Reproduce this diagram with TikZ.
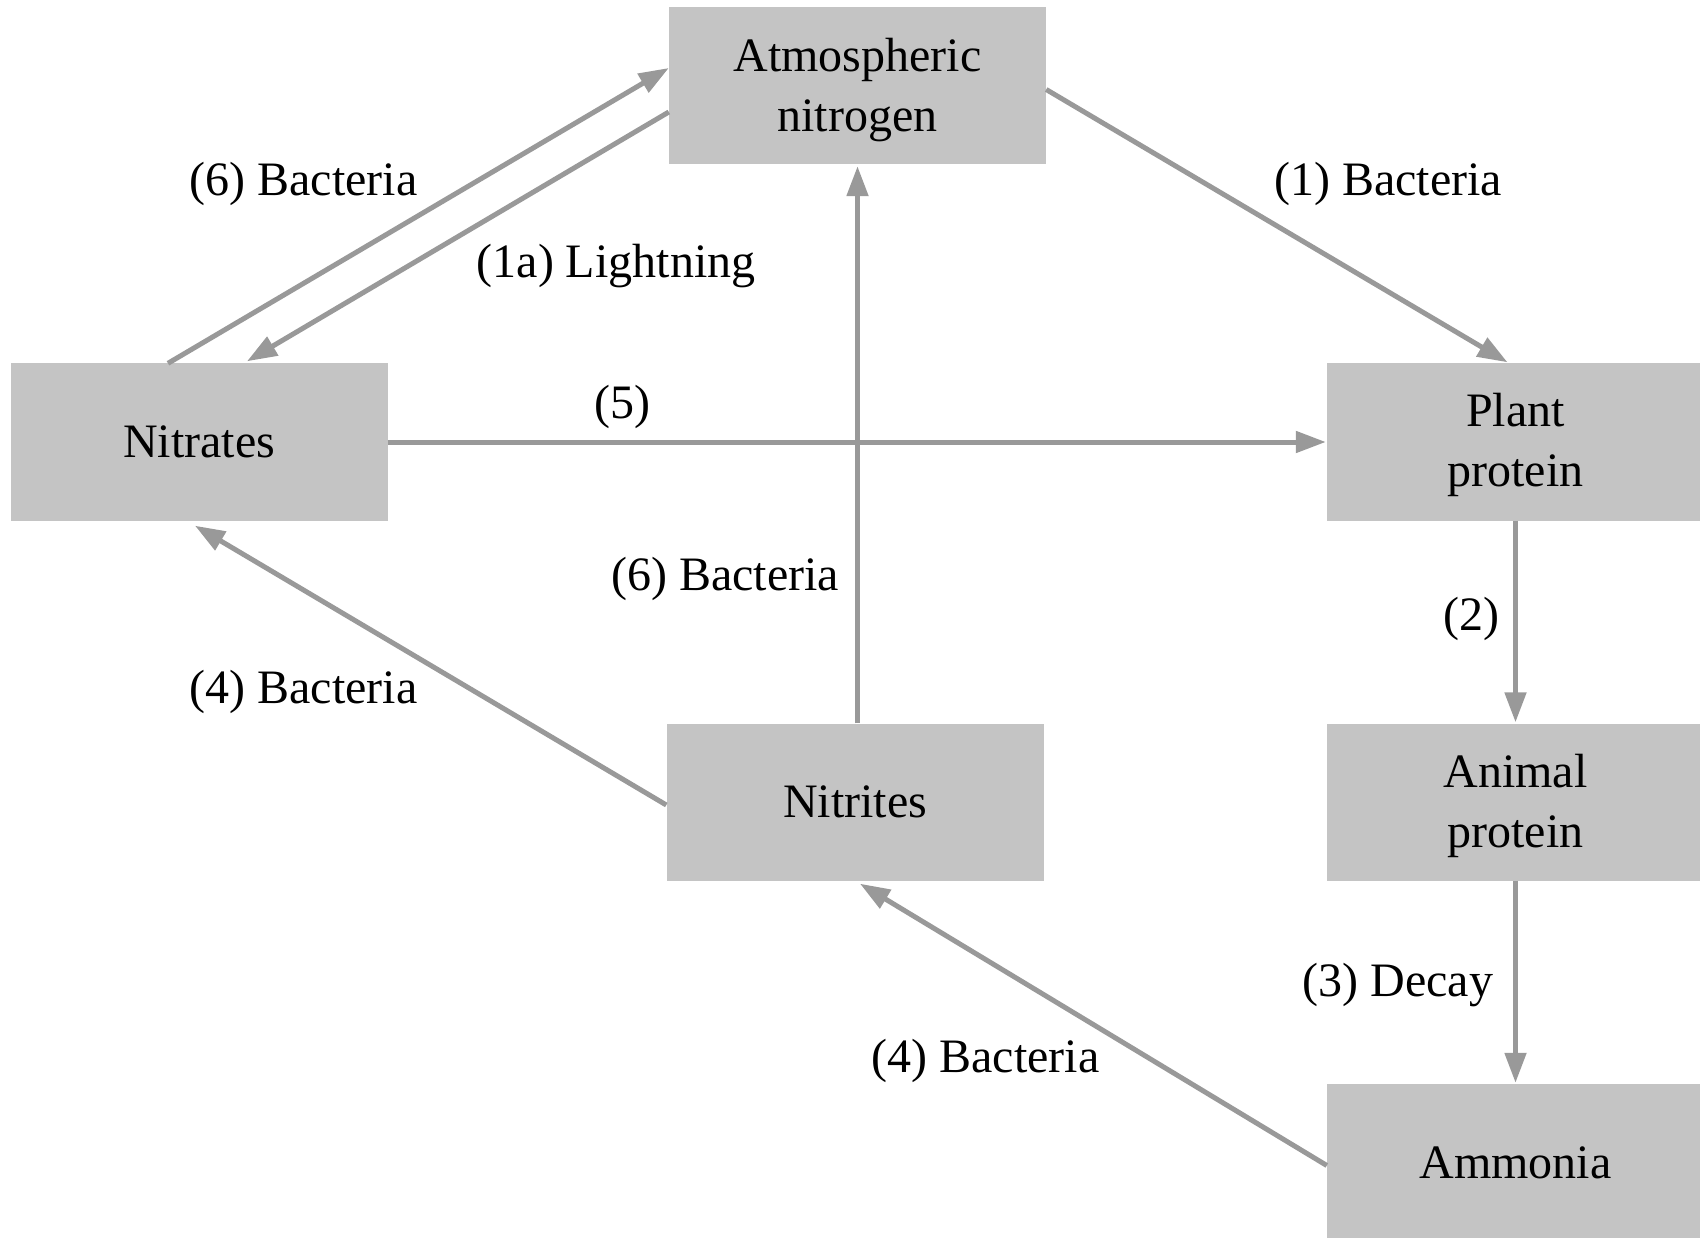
\documentclass[tikz,border=0pt]{standalone}
\usepackage{fontspec}
\setmainfont{Liberation Serif}
\usetikzlibrary{arrows.meta,calc}
\definecolor{boxgray}{HTML}{C4C4C4}
\definecolor{edgegray}{HTML}{999999}
\begin{document}
\begin{tikzpicture}[x=1pt,y=-1pt,
  box/.style={fill=boxgray,draw=none,minimum width=377pt,minimum height=157pt,inner sep=0pt,align=center,font=\fontsize{48}{60}\selectfont},
  conn/.style={draw=edgegray,line width=5pt,-{Triangle[length=30pt,width=21pt]}},
  lbl/.style={font=\fontsize{48}{58}\selectfont,inner sep=0pt}]
\useasboundingbox (0,0) rectangle (1700,1238);
\clip (0,0) rectangle (1700,1238);
\node[box,text height=103pt] (atm) at (857.5,85.5) {Atmospheric\\nitrogen};
\node[box] (nitrates) at (199,442) {Nitrates};
\node[box,text height=100pt] (plant) at (1515.5,442) {Plant\\protein};
\node[box] (nitrites) at (855,802) {Nitrites};
\node[box,text height=101pt] (animal) at (1515.5,802) {Animal\\protein};
\node[box] (ammonia) at (1515.5,1162.5) {Ammonia};
\draw[conn] ($(atm.east)+(0,4)$) -- ($(plant.north)+(-8,-1)$);
\draw[conn] ($(nitrates.north)+(-31,0)$) -- ($(atm.west)+(0,-17.5)$);
\draw[conn] ($(atm.west)+(0,26.5)$) -- ($(nitrates.north)+(48,-2)$);
\draw[conn] (nitrates.east) -- ($(plant.west)+(-1,0)$);
\draw[conn] ($(nitrites.north)+(2.5,0)$) -- ($(atm.south)+(0,2)$);
\draw[conn] ($(nitrites.west)+(0,3)$) -- ($(nitrates.south)+(-4,5)$);
\draw[conn] (plant.south) -- ($(animal.north)+(0,-1)$);
\draw[conn] (animal.south) -- ($(ammonia.north)+(0,-1)$);
\draw[conn] ($(ammonia.west)+(0,3)$) -- ($(nitrites.south)+(5,3)$);
\node[lbl] (l1) at (1388,183.5) {(1) Bacteria};
\node[lbl] (l6a) at (303.5,183.5) {(6) Bacteria};
\node[lbl] (l1a) at (616,266.5) {(1a) Lightning};
\node[lbl] (l5) at (622,406.5) {(5)};
\node[lbl] (l6b) at (725,578.5) {(6) Bacteria};
\node[lbl] (l4a) at (303.5,691.5) {(4) Bacteria};
\node[lbl] (l2) at (1471,618.5) {(2)};
\node[lbl] (l3) at (1398,985.5) {(3) Decay};
\node[lbl] (l4b) at (985.5,1060.5) {(4) Bacteria};
\end{tikzpicture}
\end{document}
